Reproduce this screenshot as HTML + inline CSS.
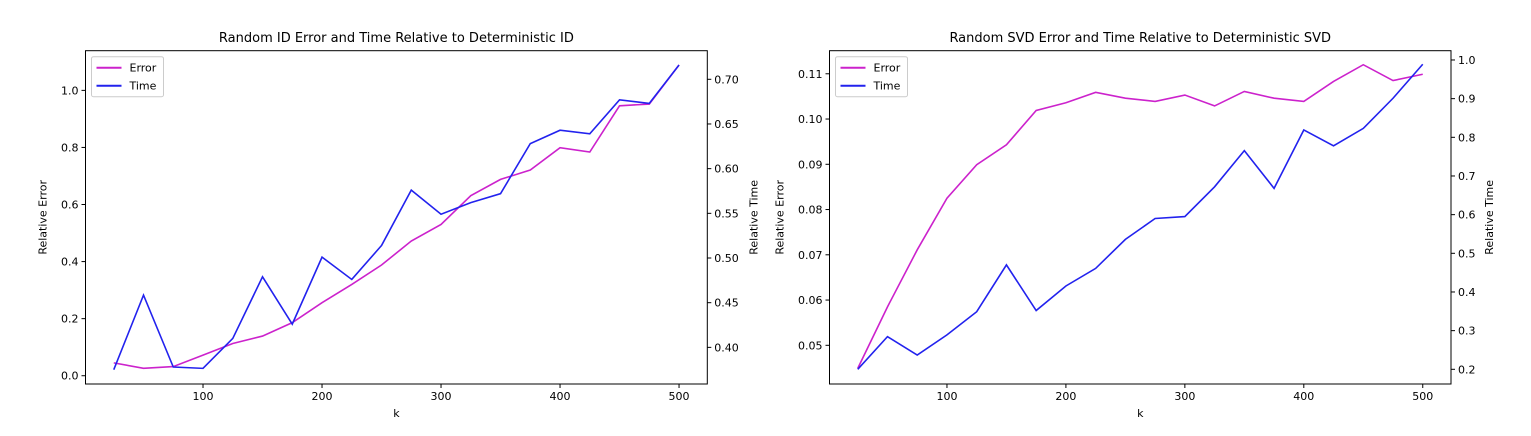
<!DOCTYPE html>
<html><head><meta charset="utf-8"><style>
body{margin:0;background:#fff;}
svg{display:block;font-family:"DejaVu Sans","Liberation Sans",sans-serif;}
</style></head><body>
<svg id="c" width="1531" height="436"></svg>
<script>
const ks=[25,50,75,100,125,150,175,200,225,250,275,300,325,350,375,400,425,450,475,500];
const idError=[0.045,0.026,0.032,0.072,0.113,0.139,0.186,0.256,0.32,0.388,0.472,0.53,0.631,0.688,0.721,0.799,0.784,0.946,0.952,1.089];
const idTime=[0.375,0.4585,0.378,0.3765,0.41,0.479,0.426,0.501,0.476,0.514,0.576,0.549,0.562,0.572,0.628,0.643,0.639,0.677,0.673,0.716];
const svdError=[0.0449,0.0585,0.0711,0.0825,0.0899,0.0943,0.1019,0.1036,0.1059,0.1046,0.1039,0.1053,0.1029,0.1061,0.1046,0.1039,0.1083,0.112,0.1085,0.1099];
const svdTime=[0.2,0.2845,0.237,0.289,0.349,0.47,0.352,0.4155,0.461,0.536,0.59,0.595,0.672,0.7655,0.668,0.819,0.778,0.823,0.901,0.989];
const xTicks=[100,200,300,400,500];
const idLeftTicks=["0.0","0.2","0.4","0.6","0.8","1.0"];
const idRightTicks=["0.40","0.45","0.50","0.55","0.60","0.65","0.70"];
const svdLeftTicks=["0.05","0.06","0.07","0.08","0.09","0.10","0.11"];
const svdRightTicks=["0.2","0.3","0.4","0.5","0.6","0.7","0.8","0.9","1.0"];
const NS="http://www.w3.org/2000/svg";
const svg=document.getElementById('c');
function mk(tag,attrs,parent,txt){const e=document.createElementNS(NS,tag);for(const k in attrs)e.setAttribute(k,attrs[k]);if(txt!==undefined)e.textContent=txt;(parent||svg).appendChild(e);return e;}
function panel(o){
  const g=mk('g',{});
  
  
  const L=o.left,R=o.right,T=50.7,B=384;
  const xs=k=>L+(k-1.25)/(522.5)*(R-L);
  const yl=v=>B-(v-o.yl[0])/(o.yl[1]-o.yl[0])*(B-T);
  const yr=v=>B-(v-o.yr[0])/(o.yr[1]-o.yr[0])*(B-T);
  const t=mk('text',{x:(L+R)/2,y:42,'text-anchor':'middle','font-size':13,fill:'#000'},g,o.title);
  
  
  xTicks.forEach(k=>{const x=xs(k);mk('line',{x1:x,x2:x,y1:B,y2:B+4,stroke:'#000'},g);
    const tl=mk('text',{x:x,y:B+16,'text-anchor':'middle','font-size':11},g,k);
    
    });
  o.lt.forEach(s=>{const y=yl(+s);mk('line',{x1:L-4,x2:L,y1:y,y2:y,stroke:'#000'},g);
    const tl=mk('text',{x:L-7,y:y+4,'text-anchor':'end','font-size':11},g,s);
    
    });
  o.rt.forEach(s=>{const y=yr(+s);mk('line',{x1:R,x2:R+4,y1:y,y2:y,stroke:'#000'},g);
    const tl=mk('text',{x:R+7,y:y+4,'text-anchor':'start','font-size':11},g,s);
    
    });
  const xl=mk('text',{x:(L+R)/2,y:B+33,'text-anchor':'middle','font-size':11},g,'k');
  
  
  const ylab=mk('text',{x:0,y:0,'text-anchor':'middle','font-size':11,transform:`translate(${L-o.ylOff},${(T+B)/2}) rotate(-90)`},g,'Relative Error');
  
  
  const yrl=mk('text',{x:0,y:0,'text-anchor':'middle','font-size':11,transform:`translate(${R+o.yrOff},${(T+B)/2}) rotate(-90)`},g,'Relative Time');
  
  
  const pe=mk('polyline',{points:ks.map((k,i)=>xs(k)+','+yl(o.err[i])).join(' '),fill:'none',stroke:'#cc22cc','stroke-width':1.6},g);
  
  
  const pt=mk('polyline',{points:ks.map((k,i)=>xs(k)+','+yr(o.time[i])).join(' '),fill:'none',stroke:'#2222ee','stroke-width':1.6},g);
  
  
  mk('rect',{x:L,y:T,width:R-L,height:B-T,fill:'none',stroke:'#000','stroke-width':1},g);
  const lg=mk('g',{},g);
  
  
  const lx=L+6;
  mk('rect',{x:lx,y:T+6,width:o.lw,height:40,fill:'#fff',stroke:'#ccc',rx:2},lg);
  mk('line',{x1:lx+5,x2:lx+30,y1:T+17,y2:T+17,stroke:'#cc22cc','stroke-width':2},lg);
  mk('text',{x:lx+38,y:T+21,'font-size':11},lg,'Error');
  mk('line',{x1:lx+5,x2:lx+30,y1:T+35,y2:T+35,stroke:'#2222ee','stroke-width':2},lg);
  mk('text',{x:lx+38,y:T+39,'font-size':11},lg,'Time');
}
panel({name:'random-id-chart',title:'Random ID Error and Time Relative to Deterministic ID',left:85.5,right:707.3,
  yl:[-0.029,1.139],yr:[0.359,0.732],lt:idLeftTicks,rt:idRightTicks,err:idError,time:idTime,ylOff:39,yrOff:50,lw:72});
panel({name:'random-svd-chart',title:'Random SVD Error and Time Relative to Deterministic SVD',left:829.5,right:1451,
  yl:[0.04145,0.1151],yr:[0.162,1.024],lt:svdLeftTicks,rt:svdRightTicks,err:svdError,time:svdTime,ylOff:46,yrOff:42,lw:72});
</script>
</body></html>
